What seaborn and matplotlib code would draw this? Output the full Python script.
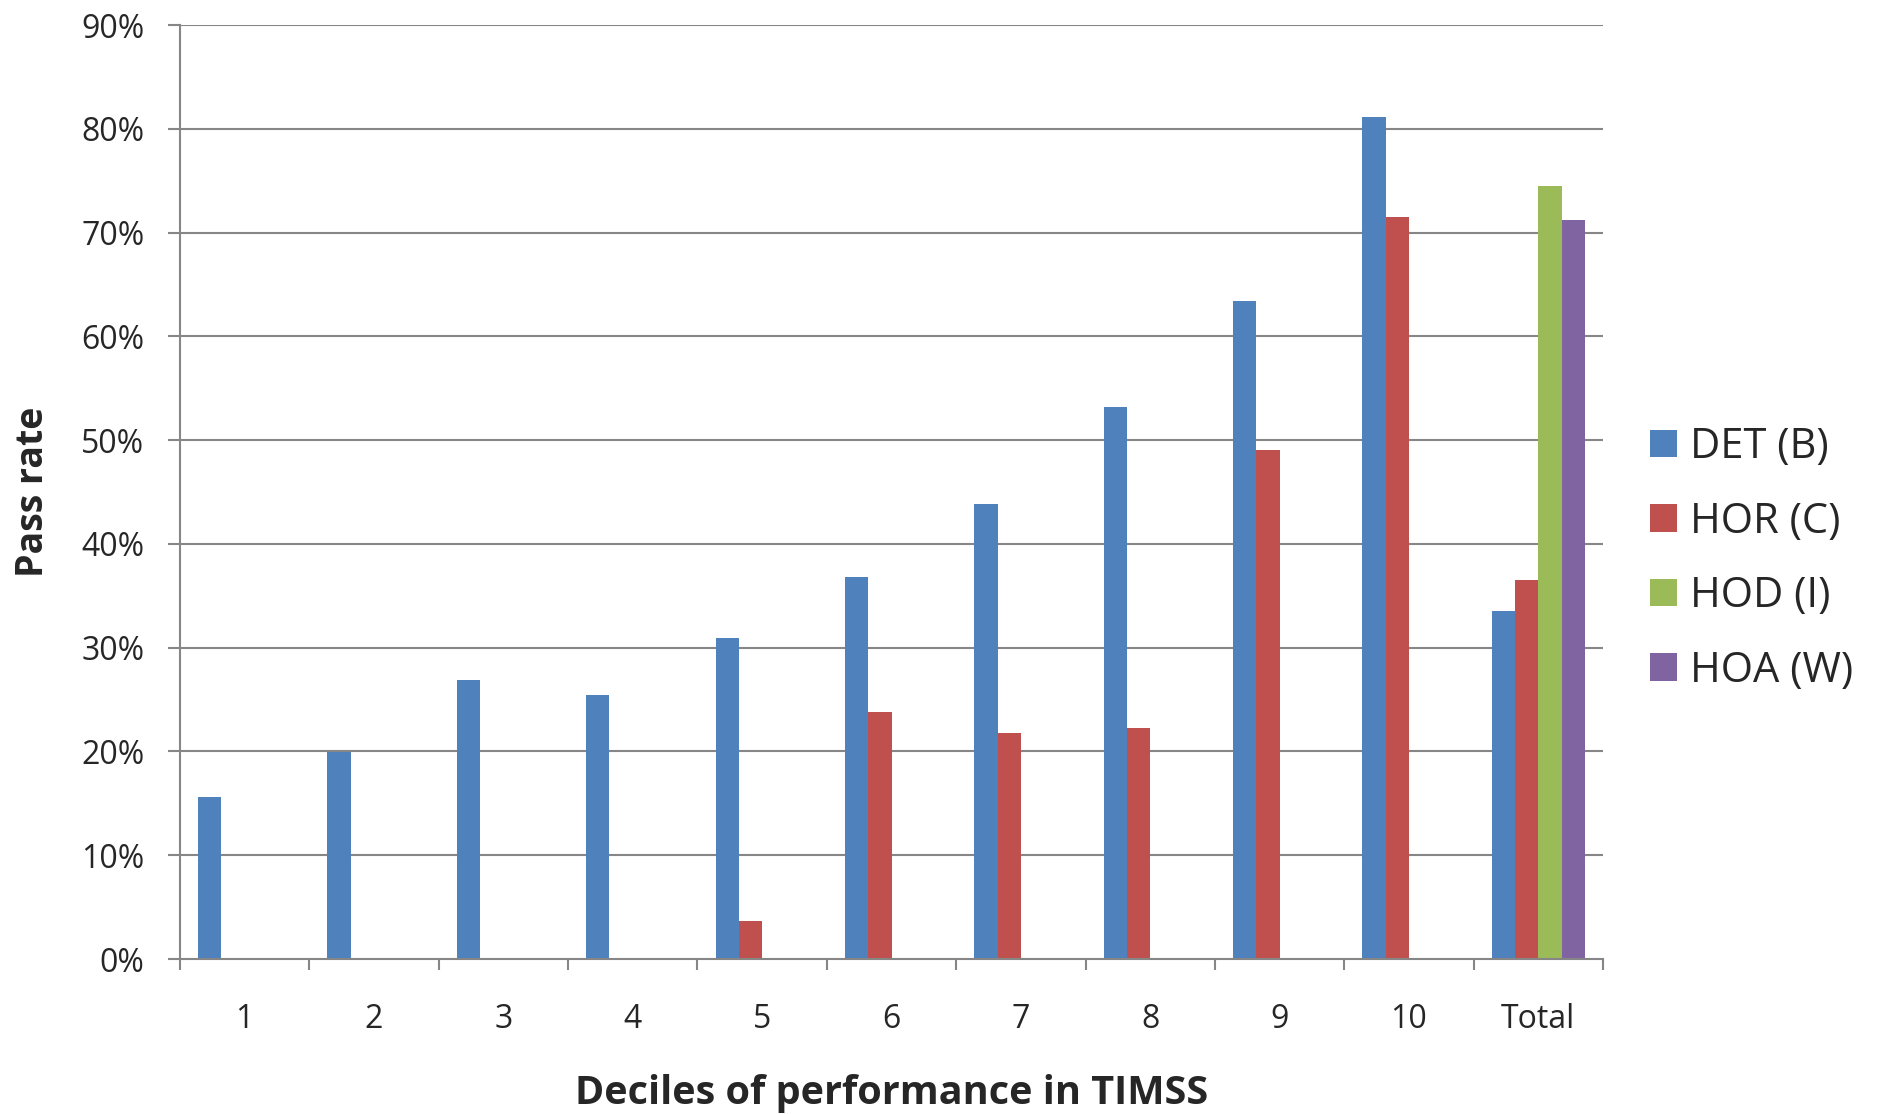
import numpy as np
import pandas as pd
import matplotlib
matplotlib.use('Agg')
import matplotlib.pyplot as plt
import matplotlib.patches as patches
import seaborn as sns

# data (pass rate, %)
categories = ['1', '2', '3', '4', '5', '6', '7', '8', '9', '10', 'Total']
det_b = [15.6, 19.9, 26.9, 25.4, 30.9, 36.8, 43.8, 53.2, 63.4, 81.1, 33.5]
hor_c = [None, None, None, None, 3.7, 23.8, 21.8, 22.3, 49.0, 71.5, 36.5]
hod_i = [None, None, None, None, None, None, None, None, None, None, 74.5]
hoa_w = [None, None, None, None, None, None, None, None, None, None, 71.2]
series_names = ['DET (B)', 'HOR (C)', 'HOD (I)', 'HOA (W)']
colors = ['#4F81BD', '#C0504D', '#9BBB59', '#8064A2']
y_ticks = [0, 10, 20, 30, 40, 50, 60, 70, 80, 90]

rows = []
for name, vals in zip(series_names, [det_b, hor_c, hod_i, hoa_w]):
    for cat, v in zip(categories, vals):
        if v is not None:
            rows.append({'decile': cat, 'series': name, 'rate': v})
df = pd.DataFrame(rows)

sns.set_style('white')
plt.rcParams['font.family'] = ['Open Sans', 'DejaVu Sans']

fig = plt.figure(figsize=(18.79, 11.14), dpi=100)
ax = fig.add_axes([180 / 1879, 1 - 959 / 1114, 1423 / 1879, 934 / 1114])

grid_col = '#868686'
for t in y_ticks[1:]:
    ax.axhline(t, color=grid_col, lw=1.5, zorder=0)

sns.barplot(data=df, x='decile', y='rate', hue='series', order=categories,
            hue_order=series_names, palette=colors, saturation=1, width=0.72,
            linewidth=0, errorbar=None, legend=False, ax=ax, zorder=2)

ax.set_xlim(-0.5, len(categories) - 0.5)
ax.set_ylim(0, 90)
ax.set_yticks(y_ticks)
ax.set_yticklabels([f'{t}%' for t in y_ticks])
ax.set_xticks(np.arange(-0.5, len(categories)), minor=True)

for s in ['top', 'right']:
    ax.spines[s].set_visible(False)
for s in ['left', 'bottom']:
    ax.spines[s].set_color(grid_col)
    ax.spines[s].set_linewidth(1.5)

ax.tick_params(axis='y', which='major', length=8.6, width=1.5, color=grid_col,
               pad=17, labelsize=23, direction='out', left=True)
ax.tick_params(axis='x', which='major', length=0, pad=32, labelsize=23)
ax.tick_params(axis='x', which='minor', length=8, width=1.5, color=grid_col,
               direction='out', bottom=True)

ax.set_xlabel('Deciles of performance in TIMSS', fontsize=28.5, fontweight='bold', labelpad=27)
ax.set_ylabel('Pass rate', fontsize=27, fontweight='bold', labelpad=21)

handles = [patches.Patch(facecolor=c, edgecolor='none') for c in colors]
fig.legend(handles, series_names, loc='center left',
           bbox_to_anchor=(1650 / 1879, 1 - 559 / 1114), frameon=False,
           fontsize=30, borderpad=0, borderaxespad=0, handlelength=0.64,
           handleheight=0.64, handletextpad=0.33, labelspacing=0.78)

fig.savefig('out.png', dpi=100)
